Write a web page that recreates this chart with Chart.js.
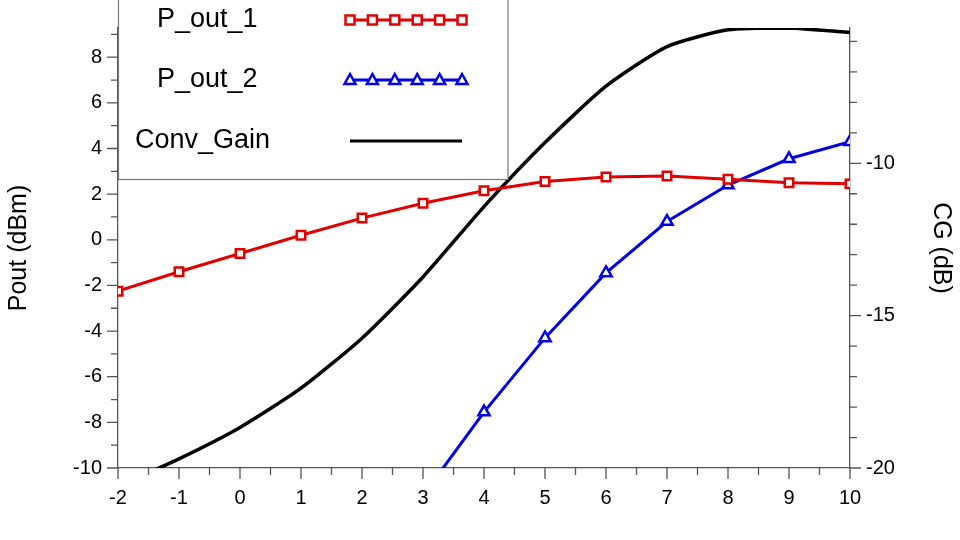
<!DOCTYPE html>
<html><head><meta charset="utf-8">
<script src="https://cdn.jsdelivr.net/npm/chart.js@4"></script>
<style>html,body{margin:0;padding:0;background:#fff}#w{width:960px;height:540px}</style>
</head><body><div id="w"><canvas id="c"></canvas></div>
<script>
const xValues = [-2,-1,0,1,2,3,4,5,6,7,8,9,10];
const pout1 = [-2.25,-1.4,-0.6,0.2,0.95,1.6,2.15,2.55,2.75,2.8,2.65,2.5,2.45];
const pout2X = [3,4,5,6,7,8,9,10];
const pout2 = [-11.2,-7.55,-4.3,-1.45,0.8,2.4,3.55,4.3];
const convGain = [-20.6,-19.7,-18.67,-17.38,-15.74,-13.73,-11.42,-9.32,-7.47,-6.17,-5.62,-5.56,-5.71];
const legendLabels = ['P_out_1','P_out_2','Conv_Gain'];

const ticksPlugin = {
  id:'tk',
  afterDraw(ch){
    const c=ch.ctx,x=ch.scales.x,y=ch.scales.y,y2=ch.scales.y2,a=ch.chartArea;
    c.save();c.strokeStyle='#555';c.lineWidth=1.3;c.beginPath();
    for(let v=-2;v<=10;v+=0.5){const p=x.getPixelForValue(v);c.moveTo(p,a.bottom);c.lineTo(p,a.bottom+(v%1===0?11:7));}
    for(let v=-10;v<=9;v+=1){const p=y.getPixelForValue(v);c.moveTo(a.left,p);c.lineTo(a.left-(v%2===0?11:7),p);}
    for(let v=-20;v<=-5.6;v+=1){const p=y2.getPixelForValue(v);c.moveTo(a.right,p);c.lineTo(a.right+(v%5===0?11:7),p);}
    c.stroke();c.restore();
  },
  afterDatasetsDraw(ch){
    const c=ch.ctx;c.save();
    c.fillStyle='#fff';c.fillRect(118,-1,390,181);
    c.strokeStyle='#777';c.lineWidth=1.2;c.strokeRect(118.5,-1,389.5,180.5);
    c.font='27px Arial';c.textBaseline='middle';
    const ys=[20,80,141],cols=['#e00000','#0000e0','#000'];
    legendLabels.forEach((t,i)=>{
      c.fillStyle='#000';c.fillText(t,i===2?135:157,ys[i]);
      c.strokeStyle=cols[i];c.lineWidth=3;
      c.beginPath();c.moveTo(350,ys[i]);c.lineTo(462,ys[i]);c.stroke();
      if(i<2){for(let k=0;k<6;k++){const px=350+k*22.4;c.fillStyle='#fff';c.lineWidth=2.5;
        if(i===0){c.fillRect(px-4.5,ys[i]-4.5,9,9);c.strokeRect(px-4.5,ys[i]-4.5,9,9);}
        else{c.beginPath();c.moveTo(px,ys[i]-6);c.lineTo(px+5.5,ys[i]+4);c.lineTo(px-5.5,ys[i]+4);c.closePath();c.fill();c.stroke();}}}
    });
    c.restore();
  }
};

new Chart(document.getElementById('c'),{
  type:'line',
  data:{datasets:[
    {label:legendLabels[0],data:xValues.map((x,i)=>({x,y:pout1[i]})),borderColor:'#e00000',backgroundColor:'#fff',borderWidth:3,pointStyle:'rect',pointRadius:6,pointBorderWidth:2.5,yAxisID:'y'},
    {label:legendLabels[1],data:pout2X.map((x,i)=>({x,y:pout2[i]})),borderColor:'#0000e0',backgroundColor:'#fff',borderWidth:3,pointStyle:'triangle',pointRadius:6.5,pointBorderWidth:2.5,yAxisID:'y'},
    {label:legendLabels[2],data:xValues.map((x,i)=>({x,y:convGain[i]})),borderColor:'#000',borderWidth:3.5,pointRadius:0,tension:0.2,yAxisID:'y2'}
  ]},
  options:{
    responsive:true,maintainAspectRatio:false,animation:false,
    layout:{padding:{top:-23,bottom:0,left:0,right:0}},
    plugins:{legend:{display:false},tooltip:{enabled:false}},
    scales:{
      x:{type:'linear',min:-2,max:10,grid:{display:false,drawTicks:false},border:{color:'#555',width:1.3},
        ticks:{stepSize:1,padding:18,color:'#000',font:{family:'Arial',size:20}},
        afterFit(s){s.height=72;}},
      y:{type:'linear',position:'left',min:-10,max:9.28,grid:{display:false,drawTicks:false},border:{color:'#555',width:1.3},
        ticks:{stepSize:2,includeBounds:false,padding:16,color:'#000',font:{family:'Arial',size:20}},
        title:{display:true,text:'Pout (dBm)',color:'#000',font:{family:'Arial',size:25}},
        afterFit(s){s.width=118;}},
      y2:{type:'linear',position:'right',min:-20,max:-5.56,grid:{display:false,drawTicks:false},border:{color:'#555',width:1.3},
        ticks:{stepSize:5,includeBounds:false,padding:16,color:'#000',font:{family:'Arial',size:20}},
        title:{display:true,text:'CG (dB)',color:'#000',font:{family:'Arial',size:25}},
        afterFit(s){s.width=110;}}
    }
  },
  plugins:[ticksPlugin]
});
</script></body></html>
